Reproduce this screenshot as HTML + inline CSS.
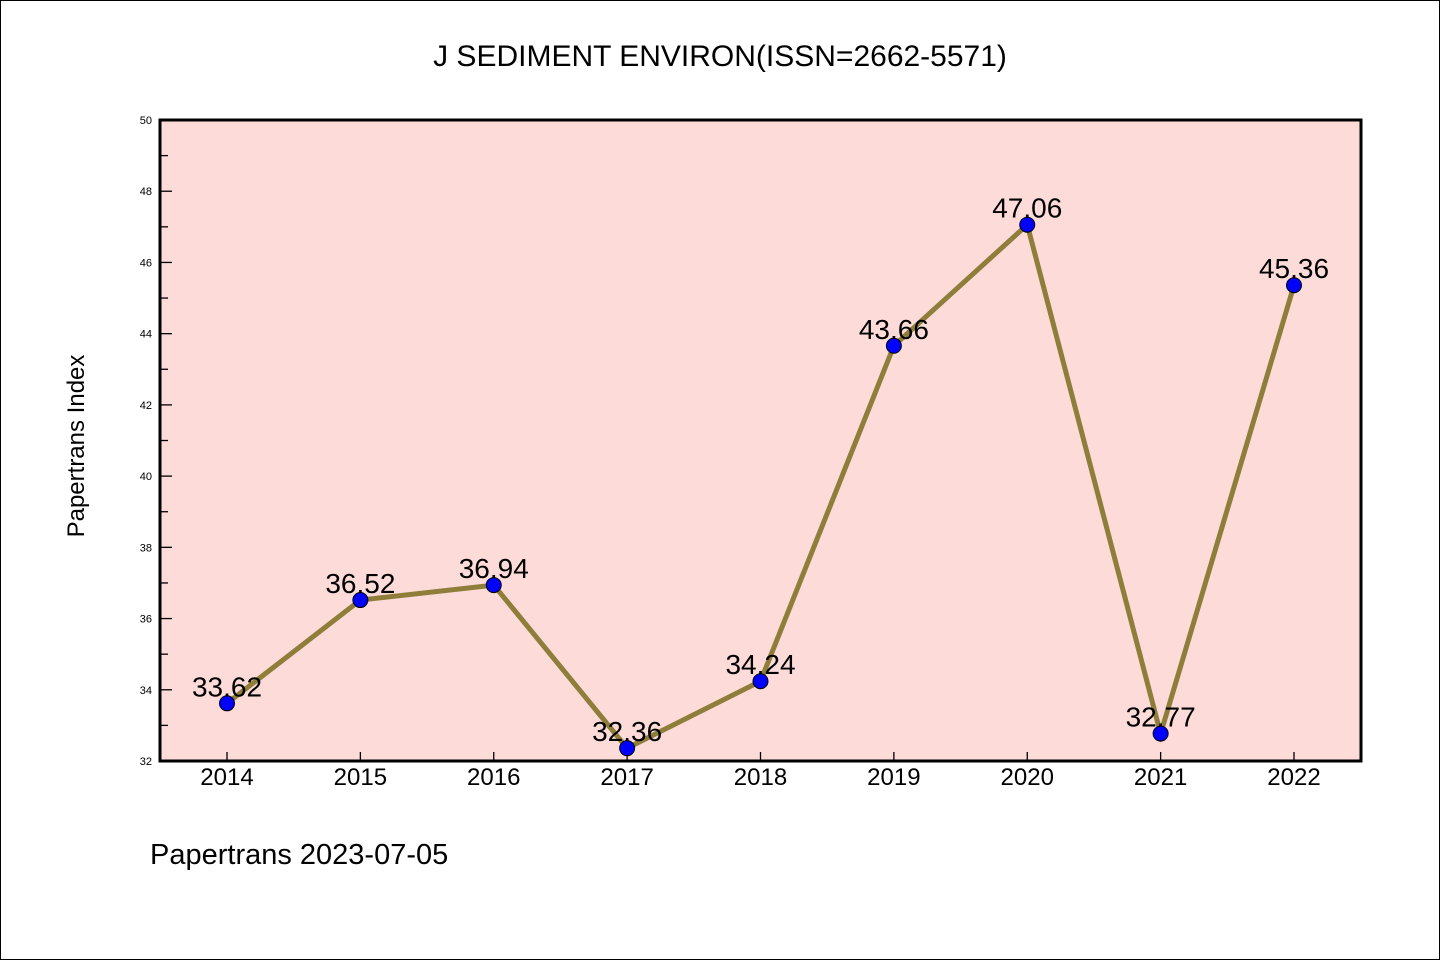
<!DOCTYPE html>
<html><head><meta charset="utf-8"><style>
html,body{margin:0;padding:0;background:#fff}
svg{display:block}
text{font-family:"WenQuanYi Zen Hei","Liberation Sans",sans-serif;fill:#000}
</style></head><body>
<svg id="chart" width="1440" height="960" viewBox="0 0 1440 960" xmlns="http://www.w3.org/2000/svg">
<rect x="0.5" y="0.5" width="1439" height="959" fill="#fff" stroke="#000" stroke-width="1"/>
<text x="720" y="66" font-size="30" text-anchor="middle">J SEDIMENT ENVIRON(ISSN=2662-5571)</text>
<rect x="160" y="120" width="1201" height="641" fill="#fddbd8"/>
<g id="grid"></g>
<g id="series"></g>
<rect x="160" y="120" width="1201" height="641" fill="none" stroke="#000" stroke-width="3"/>
<text transform="translate(84,446) rotate(-90)" font-size="24" text-anchor="middle">Papertrans Index</text>
<text x="150" y="864" font-size="29">Papertrans 2023-07-05</text>
</svg>
<script>
const categories=["2014","2015","2016","2017","2018","2019","2020","2021","2022"];
const values=[33.62,36.52,36.94,32.36,34.24,43.66,47.06,32.77,45.36];
const valueLabels=["33.62","36.52","36.94","32.36","34.24","43.66","47.06","32.77","45.36"];
const yTicks=[32,34,36,38,40,42,44,46,48,50];
const yMin=32,yMax=50;
const NS="http://www.w3.org/2000/svg";
function xs(i){return 227+i*(1294-227)/(categories.length-1);}
function ys(v){return 761-(v-yMin)/(yMax-yMin)*641;}
function mk(tag,attrs,parent,txt){const e=document.createElementNS(NS,tag);for(const k in attrs)e.setAttribute(k,attrs[k]);if(txt!==undefined)e.textContent=txt;parent.appendChild(e);return e;}
const g=document.getElementById('grid');
yTicks.forEach((t,i)=>{
  const y=ys(t);
  const tk=mk('line',{x1:160,x2:172,y1:y,y2:y,stroke:'#000','stroke-width':1.3},g);
  
  
  const lb=mk('text',{x:152,y:y+4,'font-size':11,'text-anchor':'end'},g,String(t));
  
  
  if(i<yTicks.length-1){
    const my=ys(t+1);
    const mt=mk('line',{x1:160,x2:168,y1:my,y2:my,stroke:'#000','stroke-width':1.3},g);
    
    
  }
});
categories.forEach((c,i)=>{
  const x=xs(i);
  const tk=mk('line',{x1:x,x2:x,y1:761,y2:752,stroke:'#000','stroke-width':1.3},g);
  
  
  const lb=mk('text',{x:x,y:785,'font-size':24,'text-anchor':'middle'},g,c);
  
  
});
const s=document.getElementById('series');
const pts=values.map((v,i)=>xs(i)+','+ys(v)).join(' ');
const pl=mk('polyline',{points:pts,fill:'none',stroke:'#8f7d3a','stroke-width':5,'stroke-linejoin':'miter'},s);


values.forEach((v,i)=>{
  const c=mk('circle',{cx:xs(i),cy:ys(v),r:7.5,fill:'#0000ff',stroke:'#000','stroke-width':1},s);
  
  
});
values.forEach((v,i)=>{
  const t=mk('text',{x:xs(i),y:ys(v)-7,'font-size':28,'text-anchor':'middle'},s,valueLabels[i]);
  
  
});
</script>
</body></html>
